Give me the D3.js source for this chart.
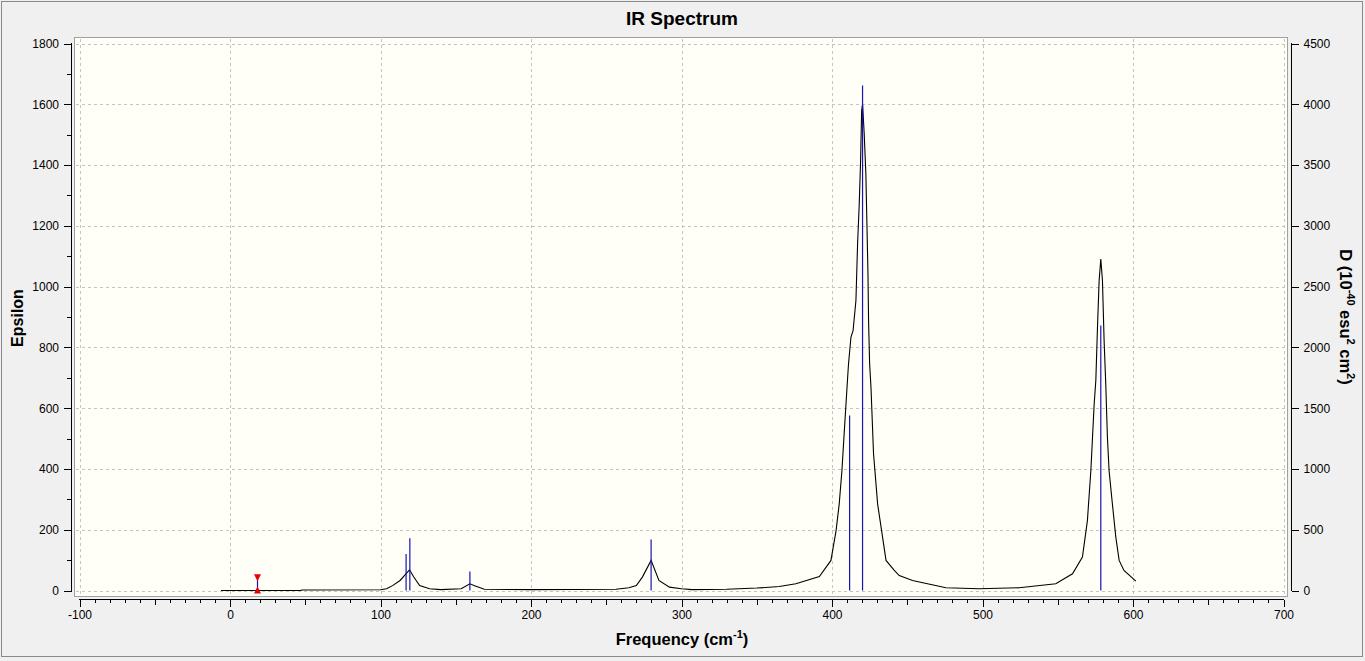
<!DOCTYPE html>
<html><head><meta charset="utf-8">
<script src="https://cdn.jsdelivr.net/npm/d3@7/dist/d3.min.js"></script>
<style>
body{margin:0;background:#f0f0f0;overflow:hidden;}
svg{display:block;}
text{font-family:"Liberation Sans",Arial,sans-serif;fill:#000;}
</style>
</head><body>
<svg id="c" width="1365" height="661"></svg>
<script>
// ---- data ----
const title = "IR Spectrum";
const curveFreq = [-6, 47, 48, 100, 104, 108, 113, 116, 119.3, 122, 126, 132.6, 140, 153.6, 159.4, 162.5, 169, 200, 256.5, 265, 270, 274, 279.8, 285, 292, 300, 307, 330, 350, 365, 376, 391.6, 399.3, 402.7, 404.8, 406.6, 408.2, 410.4, 411, 412.6, 414, 415.9, 417, 418.1, 419, 419.7, 420.3, 421.4, 422.5, 423.2, 423.9, 424.3, 425, 425.9, 427.6, 430.3, 435.9, 441.4, 444.7, 453.5, 475.7, 497.8, 524.4, 548.7, 559.8, 566.4, 569.7, 572, 574.2, 575.3, 576.4, 577.5, 578.6, 579.7, 580.8, 581.9, 583, 584.1, 586.3, 588.6, 590.8, 594, 601.9];
const curveEps  = [0, 0.5, 1.5, 2.5, 6, 16, 33, 50, 68, 45, 16, 6, 3, 6, 22, 16, 4, 3, 4, 9, 16, 44, 99, 33, 11, 6, 3, 4, 8, 13, 22, 46, 99, 197, 285, 395, 526, 702, 747, 834, 855, 954, 1141, 1273, 1415, 1579, 1601, 1503, 1371, 1207, 1042, 888, 746, 669, 450, 285, 99, 66, 49, 33, 9, 6, 9, 22, 55, 110, 230, 395, 614, 691, 866, 1020, 1091, 1020, 823, 680, 504, 395, 285, 175, 99, 66, 31];
const stickFreq = [117, 119.5, 159.4, 279.8, 411.7, 420.3, 578.6];
const stickD    = [300, 430, 156, 420, 1440, 4154, 2180];
const markerFreq = [18];
const markerEps  = [44];
const xTicks      = [-100, 0, 100, 200, 300, 400, 500, 600, 700];
const yLeftTicks  = [0, 200, 400, 600, 800, 1000, 1200, 1400, 1600, 1800];
const yRightTicks = [0, 500, 1000, 1500, 2000, 2500, 3000, 3500, 4000, 4500];

// ---- layout ----
const svg = d3.select("#c");
const W = 1365, H = 661;
const frame = {x0: 74.5, y0: 37.5, x1: 1287.5, y1: 596.5};
const x = d3.scaleLinear().domain([-100, 700]).range([79.5, 1283.5]);
const yL = d3.scaleLinear().domain([0, 1800]).range([590.5, 43.5]);
const yR = d3.scaleLinear().domain([0, 4500]).range([590.5, 43.5]);
const fmt = (v) => String(v);
const stickColor = "#1414b4";

svg.append("rect").attr("x",0).attr("y",0).attr("width",W).attr("height",H).attr("fill","#f0f0f0");
svg.append("rect").attr("x",1.5).attr("y",1.5).attr("width",1361).attr("height",655)
  .attr("fill","#f0f0f0").attr("stroke","#8a8a8a").attr("stroke-width",1);

// plot area
svg.append("rect").attr("x",frame.x0).attr("y",frame.y0)
  .attr("width",frame.x1-frame.x0).attr("height",frame.y1-frame.y0)
  .attr("fill","#fffff8").attr("stroke","#a0a0a0").attr("stroke-width",1);

// grid
const grid = svg.append("g").attr("stroke","#c4c4c4").attr("stroke-dasharray","3,3").attr("stroke-width",1).attr("shape-rendering","crispEdges");
xTicks.forEach(v => grid.append("line").attr("x1",Math.round(x(v))+0.5).attr("x2",Math.round(x(v))+0.5).attr("y1",frame.y0+1).attr("y2",frame.y1-1));
yLeftTicks.forEach(v => grid.append("line").attr("y1",Math.round(yL(v))+0.5).attr("y2",Math.round(yL(v))+0.5).attr("x1",frame.x0+1).attr("x2",frame.x1-1));

const plot = svg.append("g");

// curve
const line = d3.line().x((d)=>x(d)).y((d,i)=>yL(curveEps[i]));
plot.append("path").datum(curveFreq).attr("d",line)
  .attr("fill","none").attr("stroke","#000").attr("stroke-width",1.1);

// sticks (drawn over the curve)
plot.selectAll("line.stick").data(stickFreq).enter().append("line")
  .attr("class","stick")
  .attr("x1",(d)=>x(d)).attr("x2",(d)=>x(d))
  .attr("y1",yR(0)).attr("y2",(d,i)=>yR(stickD[i]))
  .attr("stroke",stickColor).attr("stroke-width",1.2);

// selected-mode marker
markerFreq.forEach((f,i) => {
  const mx = Math.round(x(f))+0.5, top = yL(markerEps[i]), bot = yL(0);
  plot.append("line").attr("x1",mx).attr("x2",mx).attr("y1",top).attr("y2",bot).attr("stroke",stickColor).attr("stroke-width",1.2);
  plot.append("path").attr("d",`M${mx-3.5},${top-3}L${mx+3.5},${top-3}L${mx},${top+4}Z`).attr("fill","#e80000");
  plot.append("path").attr("d",`M${mx-3.5},${bot+3}L${mx+3.5},${bot+3}L${mx},${bot-4}Z`).attr("fill","#e80000");
});

function styleAxis(a){
  a.selectAll(".domain").remove();
  a.selectAll(".tick line").attr("stroke","#000").attr("shape-rendering","crispEdges");
  a.selectAll(".tick text").attr("font-size","12px").attr("font-family","'Liberation Sans',Arial,sans-serif").attr("fill","#000");
}

// left axis
const axL = svg.append("g").attr("transform","translate(71.5,0)")
  .call(d3.axisLeft(yL).tickValues(yLeftTicks).tickSize(8).tickFormat(fmt));
const axLm = svg.append("g").attr("transform","translate(71.5,0)")
  .call(d3.axisLeft(yL).tickValues(d3.range(100,1800,200)).tickSize(5).tickFormat(""));
[axL,axLm].forEach(styleAxis);
axL.selectAll(".tick text").attr("x",-12.5);
axL.append("line").attr("x1",0).attr("x2",0).attr("y1",yL(1800)-0.5).attr("y2",yL(0)+0.5).attr("stroke","#000");

// right axis
const axR = svg.append("g").attr("transform","translate(1291.5,0)")
  .call(d3.axisRight(yR).tickValues(yRightTicks).tickSize(7).tickFormat(fmt));
styleAxis(axR);
axR.selectAll(".tick text").attr("x",12);
axR.append("line").attr("x1",0).attr("x2",0).attr("y1",yR(4500)-0.5).attr("y2",yR(0)+0.5).attr("stroke","#000");

// bottom axis
const axB = svg.append("g").attr("transform","translate(0,599.5)")
  .call(d3.axisBottom(x).tickValues(xTicks).tickSize(7).tickFormat(fmt));
const axBh = svg.append("g").attr("transform","translate(0,599.5)")
  .call(d3.axisBottom(x).tickValues(d3.range(-50,700,100)).tickSize(5).tickFormat(""));
const axBm = svg.append("g").attr("transform","translate(0,599.5)")
  .call(d3.axisBottom(x).tickValues(d3.range(-90,700,10).filter(v=>v%50!==0)).tickSize(3).tickFormat(""));
[axB,axBh,axBm].forEach(styleAxis);
axB.selectAll(".tick text").attr("y",11);
axB.append("line").attr("x1",x(-100)-0.5).attr("x2",x(700)+0.5).attr("y1",0).attr("y2",0).attr("stroke","#000");

// titles
svg.append("text").attr("x",682).attr("y",25).attr("text-anchor","middle")
  .attr("font-size","19px").attr("font-weight","bold").text(title);

const xl = svg.append("text").attr("x",682).attr("y",645).attr("text-anchor","middle")
  .attr("font-size","16.5px").attr("font-weight","bold");
xl.append("tspan").text("Frequency (cm");
xl.append("tspan").attr("font-size","11px").attr("dy",-7).text("-1");
xl.append("tspan").attr("dy",7).text(")");

svg.append("text").attr("transform","translate(23,318) rotate(-90)").attr("text-anchor","middle")
  .attr("font-size","16px").attr("font-weight","bold").text("Epsilon");

const rl = svg.append("text").attr("transform","translate(1340,317) rotate(90)").attr("text-anchor","middle")
  .attr("font-size","16.5px").attr("font-weight","bold");
rl.append("tspan").text("D (10");
rl.append("tspan").attr("font-size","11px").attr("dy",-7).text("-40");
rl.append("tspan").attr("dy",7).text(" esu");
rl.append("tspan").attr("font-size","11px").attr("dy",-7).text("2");
rl.append("tspan").attr("dy",7).text(" cm");
rl.append("tspan").attr("font-size","11px").attr("dy",-7).text("2");
rl.append("tspan").attr("dy",7).text(")");
</script>
</body></html>
